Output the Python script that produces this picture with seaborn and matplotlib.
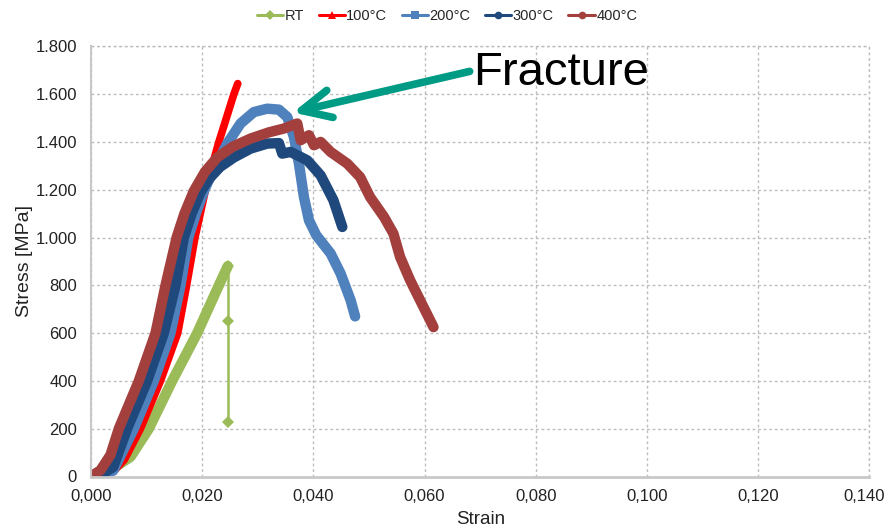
import matplotlib
matplotlib.use("Agg")
import matplotlib.pyplot as plt
import matplotlib.transforms as mtransforms
import seaborn as sns
from matplotlib.lines import Line2D
from matplotlib.ticker import FuncFormatter

# ---------------- data ----------------
series_names = ["RT", "100°C", "200°C", "300°C", "400°C"]

rt_strain = [0.000, 0.002, 0.004, 0.0071, 0.0104, 0.0146, 0.0191, 0.0230, 0.0246]
rt_stress = [0, 10, 35, 82, 200, 400, 600, 800, 880]
rt_drop_strain = [0.0246, 0.0246, 0.0246]
rt_drop_stress = [880, 650, 230]

t100_strain = [0.000, 0.002, 0.004, 0.006, 0.0089, 0.0125, 0.0156, 0.0172, 0.0187,
               0.0206, 0.0230, 0.0257, 0.0264]
t100_stress = [0, 5, 20, 70, 200, 400, 600, 800, 1000, 1200, 1400, 1600, 1644]

t200_strain = [0.000, 0.002, 0.004, 0.0077, 0.0113, 0.0143, 0.0161, 0.0175, 0.0190,
               0.0204, 0.0221, 0.0245, 0.0269, 0.0293, 0.0317, 0.0338, 0.0353, 0.0365,
               0.0374, 0.0383, 0.0392, 0.0405, 0.0431, 0.0449, 0.0467, 0.0475]
t200_stress = [0, 5, 25, 200, 400, 600, 800, 1000, 1110, 1200, 1285, 1393, 1477, 1525,
               1539, 1535, 1504, 1420, 1309, 1169, 1072, 1010, 933, 849, 737, 670]

t300_strain = [0.000, 0.002, 0.004, 0.0065, 0.0101, 0.0131, 0.0152, 0.0167, 0.0181,
               0.0197, 0.0212, 0.0232, 0.0257, 0.0287, 0.0317, 0.0338, 0.0344, 0.0359,
               0.0389, 0.0413, 0.0436, 0.0452]
t300_stress = [0, 10, 40, 200, 400, 600, 800, 1000, 1100, 1190, 1245, 1295, 1335, 1372,
               1393, 1395, 1351, 1358, 1323, 1260, 1156, 1044]

t400_strain = [0.000, 0.0017, 0.0035, 0.0050, 0.0086, 0.0116, 0.0134, 0.0154, 0.0168,
               0.0185, 0.0205, 0.0227, 0.0255, 0.0287, 0.0320, 0.0347, 0.0371, 0.0377,
               0.0392, 0.0401, 0.0413, 0.0431, 0.0461, 0.0484, 0.0502, 0.0527, 0.0544,
               0.0556, 0.0574, 0.0592, 0.0616]
t400_stress = [0, 26, 90, 200, 400, 600, 800, 1000, 1100, 1195, 1275, 1335, 1380, 1414,
               1440, 1456, 1477, 1407, 1428, 1386, 1400, 1358, 1309, 1253, 1169, 1086,
               1016, 918, 821, 737, 625]

x_ticks = [0.00, 0.02, 0.04, 0.06, 0.08, 0.10, 0.12, 0.14]
y_ticks = [0, 200, 400, 600, 800, 1000, 1200, 1400, 1600, 1800]

# ---------------- style ----------------
sns.set_theme(style="white")
plt.rcParams["font.family"] = ["Liberation Sans", "DejaVu Sans"]

colors = {"RT": "#9BBB59", "100°C": "#FF0000", "200°C": "#4F81BD",
          "300°C": "#1F497D", "400°C": "#A3403D"}
markers = {"RT": "D", "100°C": "^", "200°C": "s", "300°C": "o", "400°C": "o"}

fig = plt.figure(figsize=(8.88, 5.30), dpi=100)
ax = fig.add_axes([91 / 888, 1 - 476.5 / 530, (869.4 - 91) / 888, (476.5 - 46.3) / 530])

curves = [
    ("RT", rt_strain, rt_stress, 7.5),
    ("100°C", t100_strain, t100_stress, 5.5),
    ("200°C", t200_strain, t200_stress, 7.5),
    ("300°C", t300_strain, t300_stress, 7.5),
    ("400°C", t400_strain, t400_stress, 7.5),
]
for name, xs, ys, lw in curves:
    sns.lineplot(x=xs, y=ys, sort=False, estimator=None, color=colors[name], lw=lw,
                 solid_capstyle="round", solid_joinstyle="round", ax=ax, legend=False,
                 marker=markers[name], markevery=[0], markersize=8, markeredgewidth=0)
    if name == "RT":
        sns.lineplot(x=rt_drop_strain, y=rt_drop_stress, sort=False, estimator=None,
                     color=colors["RT"], lw=1.8, marker="D", markersize=6,
                     markeredgewidth=0, ax=ax, legend=False)

ax.set_xlim(0, 0.14)
ax.set_ylim(0, 1800)
ax.set_xticks(x_ticks)
ax.set_yticks(y_ticks)
ax.xaxis.set_major_formatter(FuncFormatter(lambda v, p: f"{v:.3f}".replace(".", ",")))
ax.yaxis.set_major_formatter(FuncFormatter(lambda v, p: f"{int(round(v)):,}".replace(",", ".")))
ax.tick_params(axis="both", labelsize=12, colors="#222222", length=0)
ax.tick_params(axis="y", pad=10)
ax.tick_params(axis="x", pad=9)

ax.grid(True, color="#BDBDBD", linestyle=(0, (2, 2)), linewidth=1.0)
for s in ["top", "right"]:
    ax.spines[s].set_visible(False)
ax.spines["left"].set_color("#C8C8C8")
ax.spines["left"].set_linewidth(1.5)
ax.spines["bottom"].set_color("#C8C8C8")
ax.spines["bottom"].set_linewidth(2.0)
ax.axhline(1800, color="#BDBDBD", linestyle=(0, (2, 2)), lw=1.0, clip_on=False)
ax.axvline(0.14, color="#BDBDBD", linestyle=(0, (2, 2)), lw=1.0, clip_on=False)

ax.set_xlabel("Strain", fontsize=13.5, color="#222222", labelpad=5)
ax.set_ylabel("Stress [MPa]", fontsize=14, color="#222222", labelpad=2)

# keep the last x tick label inside the canvas
fig.canvas.draw()
last = ax.get_xticklabels()[-1]
last.set_transform(last.get_transform() +
                   mtransforms.ScaledTranslation(-5 / 100, 0, fig.dpi_scale_trans))

# legend
handles = [Line2D([0], [0], color=colors[n], lw=2.2, marker=markers[n], markersize=5.5,
                  markeredgewidth=0) for n in series_names]
fig.legend(handles, series_names, loc="center", bbox_to_anchor=(447 / 888, 1 - 16 / 530),
           ncol=5, frameon=False, fontsize=10.5, handlelength=1.8, handletextpad=0.1,
           columnspacing=1.0)

# annotation
ax.annotate("", xy=(0.0363, 1523), xytext=(0.0681, 1695),
            arrowprops=dict(arrowstyle="->,head_length=1.05,head_width=0.5",
                            color="#009B84", lw=5.5, mutation_scale=20,
                            shrinkA=0, shrinkB=0))
fig.text(561 / 888, 1 - 73 / 530, "Fracture", fontsize=34, color="black",
         ha="center", va="center")

fig.savefig("out.png", dpi=100)
